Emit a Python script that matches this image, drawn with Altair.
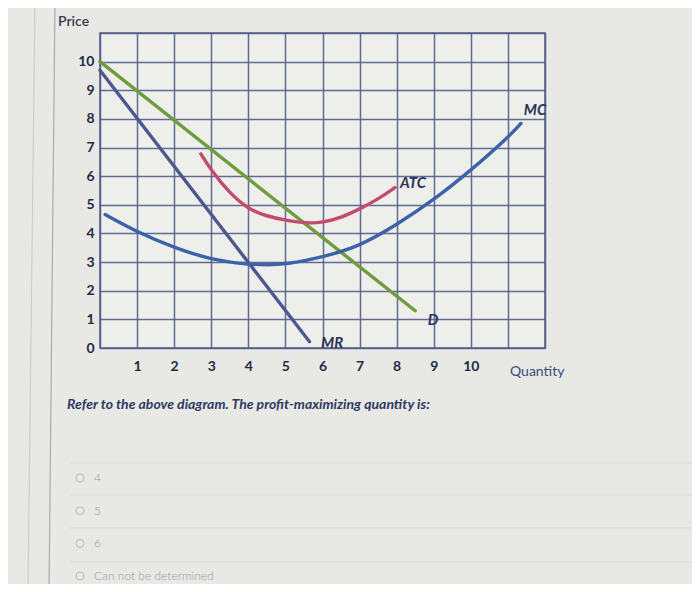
import altair as alt
import pandas as pd

# ---- data ----
d_q = [0, 8.5]
d_p = [10, 1.3]
mr_q = [0, 5.65]
mr_p = [9.7, 0.22]
mc_q = [0.14, 1, 2, 3, 4, 4.5, 5, 6, 7, 8, 9, 10, 11, 11.35]
mc_p = [4.66, 4.05, 3.5, 3.08, 2.92, 2.9, 2.92, 3.17, 3.55, 4.3, 5.17, 6.2, 7.35, 7.84]
atc_q = [2.72, 3, 3.5, 4, 4.5, 5, 5.6, 6, 6.5, 7, 7.5, 7.95]
atc_p = [6.78, 6.2, 5.4, 4.85, 4.6, 4.46, 4.35, 4.38, 4.55, 4.85, 5.2, 5.6]

label_names = ["MC", "ATC", "D", "MR"]
label_q = [11.73, 8.44, 8.98, 6.26]
label_p = [8.31, 5.76, 0.98, 0.17]

series_names = ["D", "MR", "MC", "ATC"]
series_colors = ["#6e9c3e", "#4e5890", "#3b63a8", "#c24c6c"]

x_ticks = list(range(0, 13))
y_ticks = list(range(0, 12))
x_labels_shown = [1, 10]
y_labels_shown = [0, 10]

question = "Refer to the above diagram. The profit-maximizing quantity is:"
options = ["4", "5", "6", "Can not be determined"]

rows = []
for name, qs, ps in [("D", d_q, d_p), ("MR", mr_q, mr_p), ("MC", mc_q, mc_p), ("ATC", atc_q, atc_p)]:
    for i, (q, p) in enumerate(zip(qs, ps)):
        rows.append({"series": name, "q": q, "p": p, "i": i})
curves = pd.DataFrame(rows)
labels = pd.DataFrame({"name": label_names, "q": label_q, "p": label_p})

W, H = 445, 315
grid_col = "#525c8a"
font = "Lato"

xs = alt.Scale(domain=[0, 12], nice=False, zero=False)
ys = alt.Scale(domain=[0, 11], nice=False, zero=False)

x_axis = alt.Axis(
    values=x_ticks, grid=True, gridColor=grid_col, gridWidth=1.5, gridOpacity=0.9,
    domain=False, ticks=False, title=None, labelPadding=11, labelFontSize=14,
    labelFontWeight="bold", labelColor="#232a45", labelFont=font, labelOverlap=False,
    labelExpr=f"datum.value >= {x_labels_shown[0]} && datum.value <= {x_labels_shown[1]} ? datum.label : ''",
)
y_axis = alt.Axis(
    values=y_ticks, grid=True, gridColor=grid_col, gridWidth=1.5, gridOpacity=0.9,
    domain=False, ticks=False, title=None, labelPadding=6, labelFontSize=14,
    labelFontWeight="bold", labelColor="#232a45", labelFont=font, labelOverlap=False,
    labelExpr=f"datum.value >= {y_labels_shown[0]} && datum.value <= {y_labels_shown[1]} ? datum.label : ''",
)

lines = alt.Chart(curves).mark_line(strokeWidth=3.4, interpolate="basis", strokeCap="round").encode(
    x=alt.X("q:Q", scale=xs, axis=x_axis),
    y=alt.Y("p:Q", scale=ys, axis=y_axis),
    color=alt.Color("series:N", scale=alt.Scale(domain=series_names, range=series_colors), legend=None),
    detail="series:N",
    order="i:Q",
)

curve_labels = alt.Chart(labels).mark_text(
    font=font, fontSize=15, fontWeight="bold", fontStyle="italic", color="#2a3358"
).encode(
    x=alt.X("q:Q", scale=xs, axis=x_axis), y=alt.Y("p:Q", scale=ys, axis=y_axis), text="name:N"
)

one = alt.Data(values=[{"a": 1}])


def txt(s, x, y, **kw):
    return alt.Chart(one).mark_text(text=s, align="left", baseline="middle", font=font, **kw).encode(
        x=alt.value(x), y=alt.value(y)
    )


layers = []
# left panel edge
layers.append(alt.Chart(one).mark_rule(color="#a9a9ad", strokeWidth=1.2).encode(
    x=alt.value(-45), x2=alt.value(-51), y=alt.value(-33), y2=alt.value(559)))
layers.append(alt.Chart(one).mark_rule(color="#c9c9cb", strokeWidth=1).encode(
    x=alt.value(-65), x2=alt.value(-72), y=alt.value(-33), y2=alt.value(559)))
# faint separators between options
for yy in [430, 462, 495, 529]:
    layers.append(alt.Chart(one).mark_rule(color="#d9d9d6", strokeWidth=1).encode(
        x=alt.value(-30), x2=alt.value(592), y=alt.value(yy)))

layers.append(lines)
layers.append(curve_labels)
layers.append(txt("Price", -42, -11, fontSize=14, fontWeight=600, color="#3a3b50"))
layers.append(txt("Quantity", 410, 339, fontSize=14, color="#3a4a78"))
layers.append(txt(question, -33, 372, fontSize=14, fontWeight="bold", fontStyle="italic", color="#2d3a62"))
for k, opt in enumerate(options):
    yy = 445 + k * 32.7
    layers.append(alt.Chart(one).mark_point(shape="circle", size=64, filled=False, stroke="#a6a6ae", strokeWidth=1).encode(
        x=alt.value(-20), y=alt.value(yy)))
    layers.append(txt(opt, -6, yy, fontSize=12, fontWeight=300, color="#9a9aa2"))

chart = alt.layer(*layers).properties(
    width=W, height=H,
    padding={"left": 92, "top": 25, "right": 147, "bottom": 236},
    autosize=alt.AutoSizeParams(type="none"),
    background="#e8e8e4",
).configure_view(fill="#eeeeea", stroke=grid_col, strokeWidth=1.5)

chart.save("out.html", embed_options={"renderer": "svg", "actions": False})
